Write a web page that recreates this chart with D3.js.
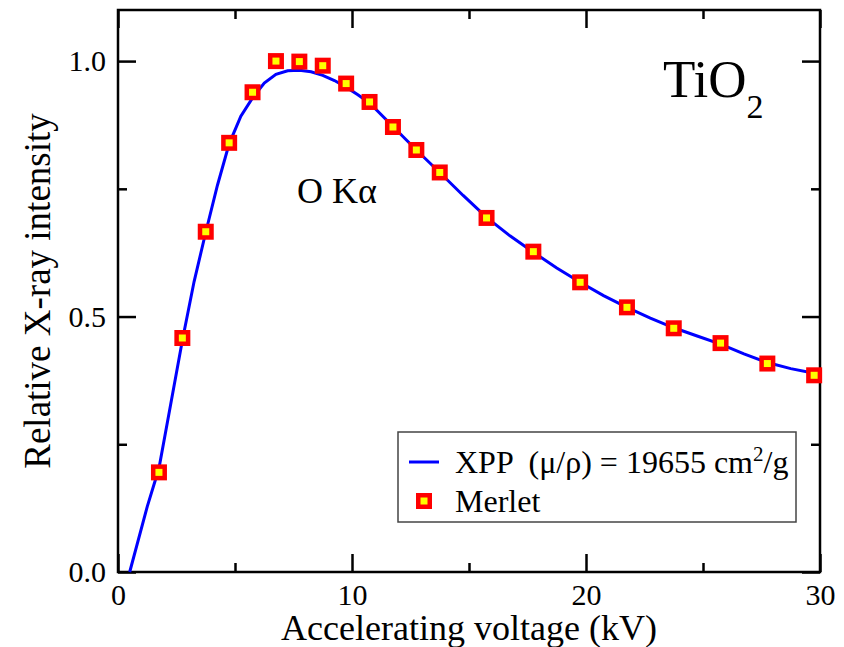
<!DOCTYPE html>
<html>
<head>
<meta charset="utf-8">
<script src="https://cdn.jsdelivr.net/npm/d3@7"></script>
<style>
    body { margin: 0; background: #fff; }
    text { font-family: 'Liberation Serif', 'Times New Roman', serif; fill: #000; }
</style>
</head>
<body>
<div class="canvas"></div>
<script>
// XPP model curve (kV, relative intensity)
const curveKv = [0.5, 1.25, 1.75, 2.25, 2.75, 3.25, 3.75, 4.25, 4.75, 5.25, 5.75, 6.25, 6.75, 7.25, 7.75,
    8.25, 8.75, 9.25, 9.75, 10.25, 10.75, 11.75, 12.75, 13.75, 14.75, 15.75, 16.75, 17.75, 18.75,
    19.75, 20.75, 21.75, 22.75, 23.75, 24.75, 25.75, 26.75, 27.75, 28.75, 29.75, 30];
const curveVal = [0.0, 0.128, 0.203, 0.328, 0.453, 0.568, 0.665, 0.757, 0.838, 0.892, 0.928, 0.957, 0.974, 0.981, 0.982,
    0.979, 0.972, 0.962, 0.949, 0.934, 0.918, 0.872, 0.826, 0.782, 0.737, 0.694, 0.658, 0.626, 0.595,
    0.567, 0.541, 0.518, 0.497, 0.478, 0.462, 0.446, 0.427, 0.41, 0.398, 0.389, 0.387];

// Merlet points
const merletKv = [1.75, 2.75, 3.75, 4.75, 5.75, 6.75, 7.75, 8.75, 9.75, 10.75, 11.75, 12.75, 13.75,
    15.75, 17.75, 19.75, 21.75, 23.75, 25.75, 27.75, 29.75];
const merletVal = [0.195, 0.458, 0.666, 0.84, 0.939, 1.0, 0.999, 0.991, 0.956, 0.92, 0.871, 0.826, 0.782,
    0.693, 0.627, 0.567, 0.518, 0.477, 0.448, 0.408, 0.385];

const xMajor = [0, 10, 20, 30];
const xMinor = [5, 15, 25];
const yMajor = [0, 0.5, 1.0];
const yMinor = [0.25, 0.75];

let margin = { left: 118, right: 24, top: 10, bottom: 75 };
let dims = {
    width: 844 - margin.left - margin.right,
    height: 647 - margin.top - margin.bottom,
};

const serif = "'Liberation Serif', 'Times New Roman', serif";
const blue = "#0000ff";
const red = "#ff0000";
const yellow = "#ffff00";

const svg = d3.select(".canvas")
    .append("svg")
    .attr("width", 844)
    .attr("height", 647)
    .attr("font-family", serif);

const chart = svg.append("g")
    .attr("transform", `translate(${margin.left},${margin.top})`);

const x = d3.scaleLinear().domain([0, 30]).range([0, dims.width]);
const y = d3.scaleLinear().domain([0, 1.1]).range([dims.height, 0]);

// axes: major + minor, ticks pointing inward on all four sides
function addAxis(axisFn, scale, vals, size, transform, withLabels, fmt) {
    const ax = axisFn(scale).tickValues(vals).tickSizeInner(-size).tickSizeOuter(0).tickPadding(12);
    if (withLabels) ax.tickFormat(fmt); else ax.tickFormat("");
    const g = chart.append("g").attr("transform", transform).call(ax);
    g.attr("font-family", serif).attr("font-size", 30);
    g.select(".domain").remove();
    g.selectAll("line").attr("stroke", "#000").attr("stroke-width", 2.5);
    g.selectAll("text").attr("fill", "#000");
    return g;
}

addAxis(d3.axisBottom, x, xMajor, 18, `translate(0,${dims.height})`, true, d3.format("d"));
addAxis(d3.axisBottom, x, xMinor, 9, `translate(0,${dims.height})`, false);
addAxis(d3.axisTop, x, xMajor, 18, "translate(0,0)", false);
addAxis(d3.axisTop, x, xMinor, 9, "translate(0,0)", false);
addAxis(d3.axisLeft, y, yMajor, 18, "translate(0,0)", true, d3.format(".1f"));
addAxis(d3.axisLeft, y, yMinor, 9, "translate(0,0)", false);
addAxis(d3.axisRight, y, yMajor, 18, `translate(${dims.width},0)`, false);
addAxis(d3.axisRight, y, yMinor, 9, `translate(${dims.width},0)`, false);

// frame
chart.append("rect")
    .attr("width", dims.width)
    .attr("height", dims.height)
    .attr("fill", "none")
    .attr("stroke", "#000")
    .attr("stroke-width", 2.5);

const curve = curveKv.map((k, i) => ({ kv: k, val: curveVal[i] }));
const merlet = merletKv.map((k, i) => ({ kv: k, val: merletVal[i] }));

const lineGen = d3.line()
    .x((d) => x(d.kv))
    .y((d) => y(d.val));

chart.append("path")
    .datum(curve)
    .attr("d", lineGen)
    .attr("fill", "none")
    .attr("stroke", blue)
    .attr("stroke-width", 3);

const sq = 11.5;
chart.selectAll("rect.pt")
    .data(merlet)
    .enter()
    .append("rect")
    .attr("class", "pt")
    .attr("x", (d) => x(d.kv) - sq / 2)
    .attr("y", (d) => y(d.val) - sq / 2)
    .attr("width", sq)
    .attr("height", sq)
    .attr("fill", yellow)
    .attr("stroke", red)
    .attr("stroke-width", 4.5);

// axis titles
svg.append("text")
    .attr("x", margin.left + dims.width / 2)
    .attr("y", 640)
    .attr("text-anchor", "middle")
    .attr("font-size", 36)
    .text("Accelerating voltage (kV)");

svg.append("text")
    .attr("transform", `translate(50,${margin.top + dims.height / 2}) rotate(-90)`)
    .attr("text-anchor", "middle")
    .attr("font-size", 37)
    .text("Relative X-ray intensity");

// annotations
const tio = svg.append("text")
    .attr("x", 663)
    .attr("y", 97)
    .attr("font-size", 53);
tio.append("tspan").text("TiO");
tio.append("tspan").attr("dy", 21).attr("font-size", 34).text("2");

svg.append("text")
    .attr("x", 297)
    .attr("y", 203)
    .attr("font-size", 36)
    .text("O Kα");

// legend
const legend = svg.append("g");
legend.append("rect")
    .attr("x", 398)
    .attr("y", 432)
    .attr("width", 398)
    .attr("height", 90)
    .attr("fill", "#fff")
    .attr("stroke", "#444")
    .attr("stroke-width", 1.5);

legend.append("line")
    .attr("x1", 409).attr("x2", 439)
    .attr("y1", 462).attr("y2", 462)
    .attr("stroke", blue)
    .attr("stroke-width", 3);

const lt = legend.append("text")
    .attr("x", 455)
    .attr("y", 473)
    .attr("font-size", 32)
    .style("white-space", "pre");
lt.append("tspan").text("XPP  (μ/ρ) = 19655 cm");
lt.append("tspan").attr("dy", -12).attr("font-size", 21).text("2");
lt.append("tspan").attr("dy", 12).text("/g");

legend.append("rect")
    .attr("x", 424 - sq / 2)
    .attr("y", 501 - sq / 2)
    .attr("width", sq)
    .attr("height", sq)
    .attr("fill", yellow)
    .attr("stroke", red)
    .attr("stroke-width", 4.5);

legend.append("text")
    .attr("x", 455)
    .attr("y", 512)
    .attr("font-size", 32)
    .text("Merlet");
</script>
</body>
</html>
